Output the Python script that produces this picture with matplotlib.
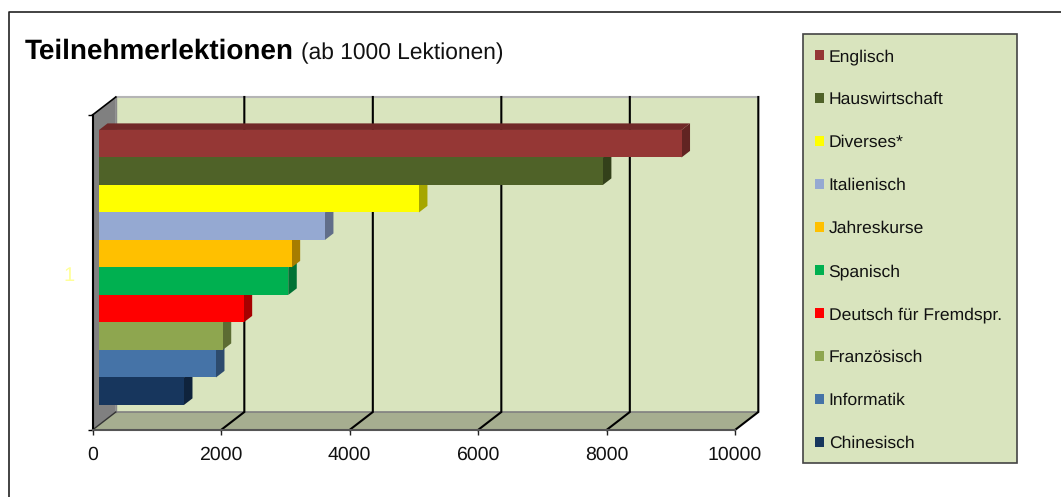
import matplotlib
matplotlib.use("Agg")
import matplotlib.pyplot as plt
from matplotlib.patches import Polygon, Patch, Rectangle
from matplotlib.lines import Line2D
from matplotlib.colors import to_rgb

plt.rcParams['font.family'] = ['Liberation Sans', 'DejaVu Sans']
plt.rcParams['text.hinting'] = 'no_hinting'

# top to bottom, same order as the legend
kurse = ["Englisch", "Hauswirtschaft", "Diverses*", "Italienisch", "Jahreskurse",
         "Spanisch", "Deutsch für Fremdspr.", "Französisch", "Informatik", "Chinesisch"]
lektionen = [9066, 7842, 4979, 3516, 2998, 2945, 2251, 1925, 1820, 1322]
farben = ["#953735", "#4F6228", "#FFFF00", "#95A9D2", "#FFC000",
          "#00B050", "#FF0000", "#8EA64F", "#4573A7", "#17365D"]
xticks = [0, 2000, 4000, 6000, 8000, 10000]

W, H = 1061, 497
# 3d look: one unit of depth moves this far in data units
DX = 363
DY = 18 / 315
BAR_FRONT = 0.28
BAR_DEPTH = 0.365
BAR_H = 27.5 / 315
BAR_BASE = 20 / 315


def shade(col, f):
    return tuple(c * f for c in to_rgb(col))


def poly(ax, pts, col, z, **kw):
    ax.add_patch(Polygon(pts, closed=True, facecolor=col, edgecolor=kw.pop("ec", "none"),
                         lw=kw.pop("lw", 0), zorder=z, clip_on=False, **kw))


fig = plt.figure(figsize=(W / 100, H / 100), dpi=100)
ax = fig.add_axes([92.5 / W, (H - 430) / H, 642.5 / W, 315 / H])
ax.set_xlim(0, 10000)
ax.set_ylim(0, 1)

# walls and floor
poly(ax, [(DX, DY), (10000 + DX, DY), (10000 + DX, 1 + DY), (DX, 1 + DY)], "#D9E4BE", 1)
poly(ax, [(0, 0), (10000, 0), (10000 + DX, DY), (DX, DY)], "#A6AE90", 1)
poly(ax, [(0, 0), (DX, DY), (DX, 1 + DY), (0, 1)], "#808080", 1)
ax.plot([DX, 10000 + DX], [1 + DY, 1 + DY], color="#B5B5B5", lw=1.5, zorder=2, clip_on=False)
ax.plot([DX, 10000 + DX], [DY, DY], color="#808080", lw=1.2, zorder=2, clip_on=False)
ax.plot([DX, DX], [DY, 1 + DY], color="#8A8A8A", lw=1, zorder=2, clip_on=False)

# gridlines, back wall plus the diagonal over the floor
for t in xticks[1:]:
    ax.plot([t, t + DX, t + DX], [0, DY, 1 + DY], color="black", lw=1.5, zorder=2,
            clip_on=False, solid_joinstyle="miter")
ax.plot([0, DX], [1, 1 + DY], color="black", lw=1.2, zorder=2, clip_on=False)
ax.plot([0, DX], [0, DY], color="#333333", lw=1, zorder=2, clip_on=False)

# bars, lowest first so the one above hides its top face
x0 = BAR_FRONT * DX
y0 = BAR_BASE + BAR_FRONT * DY
ex = BAR_DEPTH * DX
ey = BAR_DEPTH * DY
n = len(kurse)
for i in range(n - 1, -1, -1):
    v = lektionen[i]
    col = farben[i]
    y = y0 + (n - 1 - i) * BAR_H
    poly(ax, [(x0 + v, y), (x0 + v + ex, y + ey), (x0 + v + ex, y + BAR_H + ey), (x0 + v, y + BAR_H)],
         shade(col, 0.65), 3 + (n - i) * 0.1)
    poly(ax, [(x0, y + BAR_H), (x0 + ex, y + BAR_H + ey), (x0 + v + ex, y + BAR_H + ey), (x0 + v, y + BAR_H)],
         shade(col, 0.75), 3 + (n - i) * 0.1)
    ax.barh(y, v, height=BAR_H, left=x0, align="edge", color=col, zorder=3 + (n - i) * 0.1)

ax.set_xticks(xticks)
ax.set_xticklabels([str(t) for t in xticks], fontsize=14, color="#111111")
ax.set_yticks([0, 1])
ax.set_yticklabels([])
ax.tick_params(axis="x", length=3.6, width=1, color="#222222", pad=8)
ax.tick_params(axis="y", length=3.6, width=1, color="black")
ax.text(-360, 0.49, "1", color="#FFFF99", fontsize=14.5, ha="center", va="center")
ax.patch.set_visible(False)
ax.spines["top"].set_visible(False)
ax.spines["right"].set_visible(False)
ax.spines["left"].set_linewidth(1.5)
ax.spines["left"].set_zorder(2.5)
ax.spines["bottom"].set_color("#555555")
ax.spines["bottom"].set_linewidth(1.5)

# outer frame, only top and left are in the picture
fig.add_artist(Line2D([8.5 / W, 8.5 / W, 1], [0, (H - 11.5) / H, (H - 11.5) / H],
                      color="#222222", lw=1.2))

fig.text(25 / W, (H - 59) / H, "Teilnehmerlektionen", fontsize=20.1, fontweight="bold", color="black")
fig.text(301 / W, (H - 59) / H, "(ab 1000 Lektionen)", fontsize=16.4, color="#111111")

# legend box, drawn apart because its width is wider than the entries
fig.add_artist(Rectangle((802.5 / W, (H - 463) / H), 214.5 / W, 429 / H, facecolor="#D9E4BE",
                         edgecolor="#444444", lw=1.2, transform=fig.transFigure))
handles = [Patch(facecolor=c, edgecolor="none") for c in farben]
fig.legend(handles, kurse, loc="upper left", bbox_to_anchor=(815 / W, (H - 49) / H),
           borderaxespad=0, borderpad=0, frameon=False, fontsize=12.6, handlelength=0.52,
           handleheight=0.52, handletextpad=0.26, labelspacing=1.55, labelcolor="#111111")

fig.savefig("out.png", dpi=100)
